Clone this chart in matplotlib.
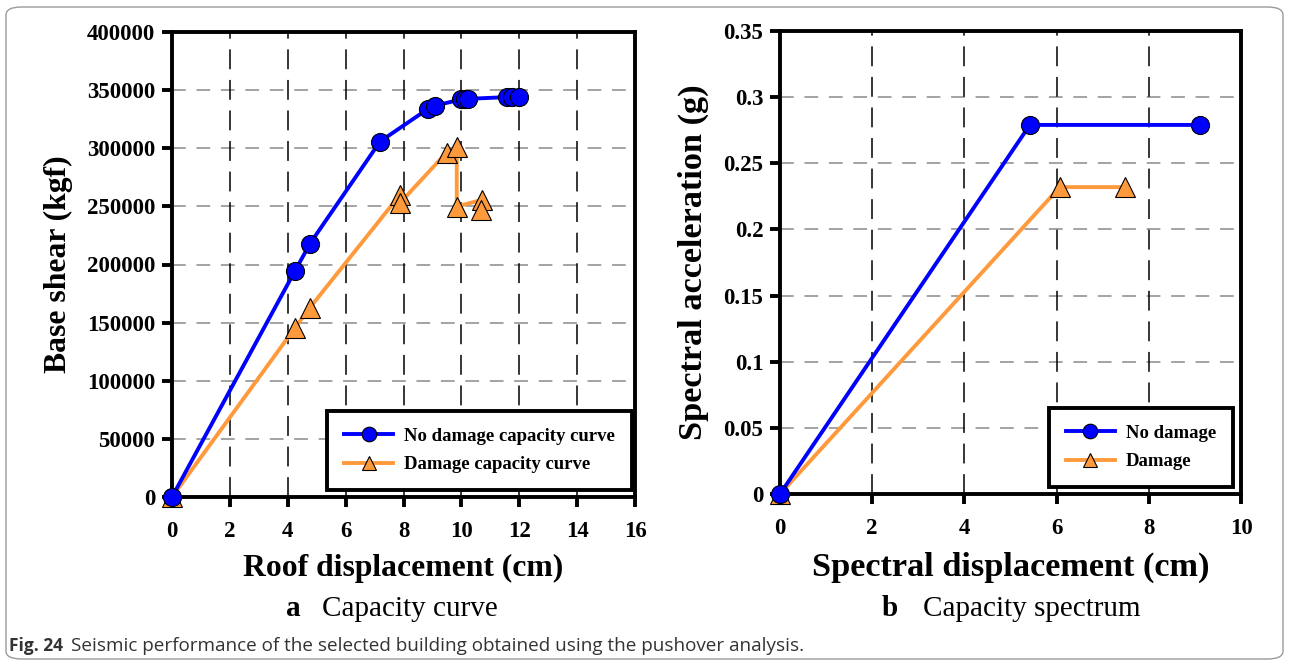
import matplotlib
matplotlib.use("Agg")
import matplotlib.pyplot as plt
from matplotlib.patches import FancyBboxPatch

# ---- data ----
roof_disp_nodamage = [0, 4.25, 4.77, 7.19, 8.83, 9.09, 10.0, 10.12, 10.24, 11.57, 11.74, 12.0]
base_shear_nodamage = [0, 194500, 218000, 305800, 333600, 336700, 342000, 342300, 342500, 344000, 344000, 344000]
roof_disp_damage = [0, 4.25, 4.77, 7.88, 7.88, 9.49, 9.84, 9.84, 10.7, 10.67]
base_shear_damage = [0, 145500, 163000, 260000, 253000, 296300, 301000, 249800, 255600, 247000]

sd_nodamage = [0, 5.42, 9.1]
sa_nodamage = [0, 0.279, 0.279]
sd_damage = [0, 6.07, 7.48]
sa_damage = [0, 0.232, 0.232]

left_xticks = [0, 2, 4, 6, 8, 10, 12, 14, 16]
left_yticks = [0, 50000, 100000, 150000, 200000, 250000, 300000, 350000, 400000]
right_xticks = [0, 2, 4, 6, 8, 10]
right_yticks = [0, 0.05, 0.1, 0.15, 0.2, 0.25, 0.3, 0.35]
right_yticklabels = ["0", "0.05", "0.1", "0.15", "0.2", "0.25", "0.3", "0.35"]

BLUE = "#0000FF"
ORANGE = "#FF9A3C"
SERIF = "Liberation Serif"

fig = plt.figure(figsize=(12.9, 6.67), dpi=100)

# rounded border
border = FancyBboxPatch((6 / 1290, 8 / 667), (1283 - 6) / 1290, (660 - 8) / 667,
                        boxstyle="round,pad=0,rounding_size=0.012",
                        transform=fig.transFigure, fill=False,
                        edgecolor="#9a9a9a", linewidth=1.0)
fig.patches.append(border)

ax1 = fig.add_axes([172 / 1290, 1 - 497 / 667, (635 - 172) / 1290, (497 - 32) / 667])
ax2 = fig.add_axes([780 / 1290, 1 - 494 / 667, (1241 - 780) / 1290, (494 - 31) / 667])


def style_axes(ax, xticks, yticks, ylabels=None):
    for s in ax.spines.values():
        s.set_linewidth(2.8)
        s.set_color("black")
    ax.set_xticks(xticks)
    ax.set_yticks(yticks)
    if ylabels is not None:
        ax.set_yticklabels(ylabels)
    ax.tick_params(direction="out", length=7, width=2.8, color="black")
    ax.tick_params(axis="x", pad=10)
    ax.tick_params(axis="y", pad=5)
    for lab in ax.get_xticklabels() + ax.get_yticklabels():
        lab.set_fontfamily(SERIF)
        lab.set_fontweight("bold")
        lab.set_fontsize(16.5)
    for t in yticks[1:-1]:
        ax.axhline(t, color="#8a8a8a", linewidth=1.1, dashes=(9, 7), zorder=1)
    for t in xticks[1:-1]:
        ax.axvline(t, color="black", linewidth=1.1, dashes=(13, 7), zorder=1)


style_axes(ax1, left_xticks, left_yticks)
ax1.set_xlim(0, 16)
ax1.set_ylim(0, 400000)
ax1.plot(roof_disp_nodamage, base_shear_nodamage, color=BLUE, linewidth=2.8,
         marker="o", markersize=13, markerfacecolor=BLUE, markeredgecolor="black",
         markeredgewidth=0.8, label="No damage capacity curve", zorder=4, clip_on=False)
ax1.plot(roof_disp_damage, base_shear_damage, color=ORANGE, linewidth=2.8,
         marker="^", markersize=15, markerfacecolor=ORANGE, markeredgecolor="black",
         markeredgewidth=0.8, label="Damage capacity curve", zorder=3, clip_on=False)

style_axes(ax2, right_xticks, right_yticks, right_yticklabels)
ax2.set_xlim(0, 10)
ax2.set_ylim(0, 0.35)
ax2.plot(sd_nodamage, sa_nodamage, color=BLUE, linewidth=2.8,
         marker="o", markersize=13, markerfacecolor=BLUE, markeredgecolor="black",
         markeredgewidth=0.8, label="No damage", zorder=4, clip_on=False)
ax2.plot(sd_damage, sa_damage, color=ORANGE, linewidth=2.8,
         marker="^", markersize=15, markerfacecolor=ORANGE, markeredgecolor="black",
         markeredgewidth=0.8, label="Damage", zorder=3, clip_on=False)

# axis labels
ax1.set_xlabel("Roof displacement (cm)", fontfamily=SERIF, fontweight="bold",
               fontsize=22.8, va="center")
ax1.xaxis.set_label_coords(0.5, (497 - 568) / 465)
ax1.set_ylabel("Base shear (kgf)", fontfamily=SERIF, fontweight="bold",
               fontsize=22.8, va="center")
ax1.yaxis.set_label_coords((58 - 172) / 463, 0.5)

ax2.set_xlabel("Spectral displacement (cm)", fontfamily=SERIF, fontweight="bold",
               fontsize=24.7, va="center")
ax2.xaxis.set_label_coords(0.5, (494 - 567) / 463)
ax2.set_ylabel("Spectral acceleration (g)", fontfamily=SERIF, fontweight="bold",
               fontsize=24.7, va="center")
ax2.yaxis.set_label_coords((693 - 780) / 461, 0.5)

# legends
def make_legend(ax, anchor):
    leg = ax.legend(loc="lower right", bbox_to_anchor=anchor, fancybox=False,
                    framealpha=1, edgecolor="black", handlelength=2.6,
                    borderpad=0.9, labelspacing=0.6, handletextpad=0.6,
                    borderaxespad=0,
                    prop={"family": SERIF, "weight": "bold", "size": 13.5})
    leg.get_frame().set_linewidth(2.8)
    leg.set_zorder(10)
    for h in leg.legend_handles:
        h.set_markersize(10.5)
    return leg

make_legend(ax1, ((632 - 172) / 463, (497 - 490) / 465))
make_legend(ax2, ((1233 - 780) / 461, (494 - 487) / 463))

# sub-captions
fig.text(293 / 1290, 1 - 609 / 667, "a", fontfamily=SERIF, fontweight="bold",
         fontsize=21, ha="center", va="center")
fig.text(322 / 1290, 1 - 609 / 667, "Capacity curve", fontfamily=SERIF,
         fontsize=21, ha="left", va="center")
fig.text(890 / 1290, 1 - 609 / 667, "b", fontfamily=SERIF, fontweight="bold",
         fontsize=21, ha="center", va="center")
fig.text(923 / 1290, 1 - 609 / 667, "Capacity spectrum", fontfamily=SERIF,
         fontsize=21, ha="left", va="center")

# figure caption
fig.text(9 / 1290, 1 - 646 / 667, "Fig. 24", fontfamily="Open Sans", fontweight="bold",
         fontsize=12.5, color="#333333", ha="left", va="center")
fig.text(71 / 1290, 1 - 646 / 667,
         "Seismic performance of the selected building obtained using the pushover analysis.",
         fontfamily="Open Sans", fontsize=13.6, color="#333333", ha="left", va="center")

fig.savefig("out.png", dpi=100)
